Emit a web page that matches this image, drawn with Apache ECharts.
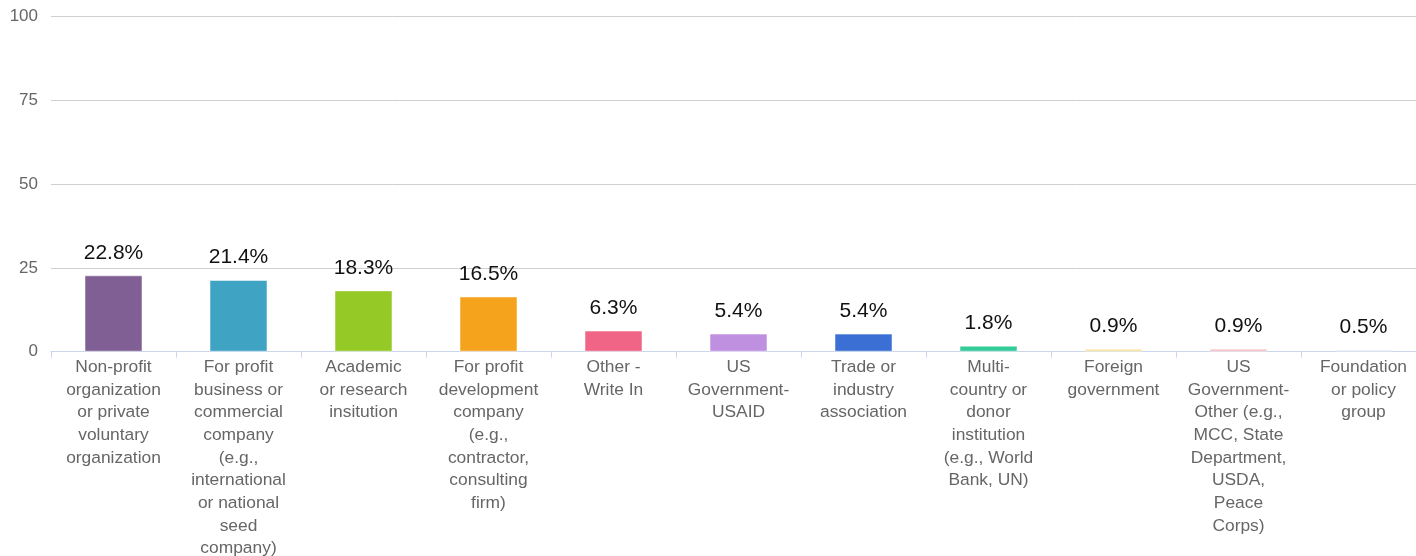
<!DOCTYPE html>
<html>
<head>
<meta charset="utf-8">
<script src="https://cdn.jsdelivr.net/npm/echarts@6/dist/echarts.min.js"></script>
<style>
html,body{margin:0;padding:0;background:#fff;}
#chart{width:1416px;height:556px;}
</style>
</head>
<body>
<div id="chart"></div>
<script>
const categories = [
  "Non-profit\norganization\nor private\nvoluntary\norganization",
  "For profit\nbusiness or\ncommercial\ncompany\n(e.g.,\ninternational\nor national\nseed\ncompany)",
  "Academic\nor research\ninsitution",
  "For profit\ndevelopment\ncompany\n(e.g.,\ncontractor,\nconsulting\nfirm)",
  "Other -\nWrite In",
  "US\nGovernment-\nUSAID",
  "Trade or\nindustry\nassociation",
  "Multi-\ncountry or\ndonor\ninstitution\n(e.g., World\nBank, UN)",
  "Foreign\ngovernment",
  "US\nGovernment-\nOther (e.g.,\nMCC, State\nDepartment,\nUSDA,\nPeace\nCorps)",
  "Foundation\nor policy\ngroup"
];
const values = [22.8, 21.4, 18.3, 16.5, 6.3, 5.4, 5.4, 1.8, 0.9, 0.9, 0.5];
const barColors = ["#7f5f94", "#3fa3c4", "#95c925", "#f5a31d", "#f06586", "#bf8fe0", "#3b6fd4", "#33cc99", "#f8e08e", "#f4b8b8", "#b8bfe0"];
const yTicks = [0, 25, 50, 75, 100];

const chart = echarts.init(document.getElementById('chart'), null, {renderer: 'canvas'});
const font = "'Liberation Sans', Arial, Helvetica, sans-serif";
chart.setOption({
  animation: false,
  textStyle: {fontFamily: font},
  grid: {left: 51, right: -10, top: 16.7, bottom: 204.3, containLabel: false, outerBoundsMode: 'none'},
  xAxis: {
    type: 'category',
    data: categories,
    axisLine: {lineStyle: {color: '#ccd6eb', width: 1}},
    axisTick: {show: true, length: 6, lineStyle: {color: '#ccd6eb'}},
    axisLabel: {interval: 0, color: '#666666', fontSize: 17.4, lineHeight: 22.7, margin: 4, fontFamily: font}
  },
  yAxis: {
    type: 'value',
    min: yTicks[0],
    max: yTicks[yTicks.length - 1],
    interval: 25,
    axisLine: {show: false},
    axisTick: {show: false},
    splitLine: {lineStyle: {color: '#cfcfcf', width: 1}},
    axisLabel: {color: '#666666', fontSize: 17, margin: 13, fontFamily: font}
  },
  series: [{
    type: 'bar',
    barWidth: 58,
    data: values.map((v, i) => ({value: v, itemStyle: {color: barColors[i]}})),
    itemStyle: {borderColor: 'rgba(255,255,255,0.5)', borderWidth: 1},
    label: {
      show: true,
      position: 'top',
      distance: 12,
      color: '#111111',
      fontSize: 21,
      fontFamily: font,
      formatter: p => p.value.toFixed(1) + '%'
    }
  }]
});
</script>
</body>
</html>
